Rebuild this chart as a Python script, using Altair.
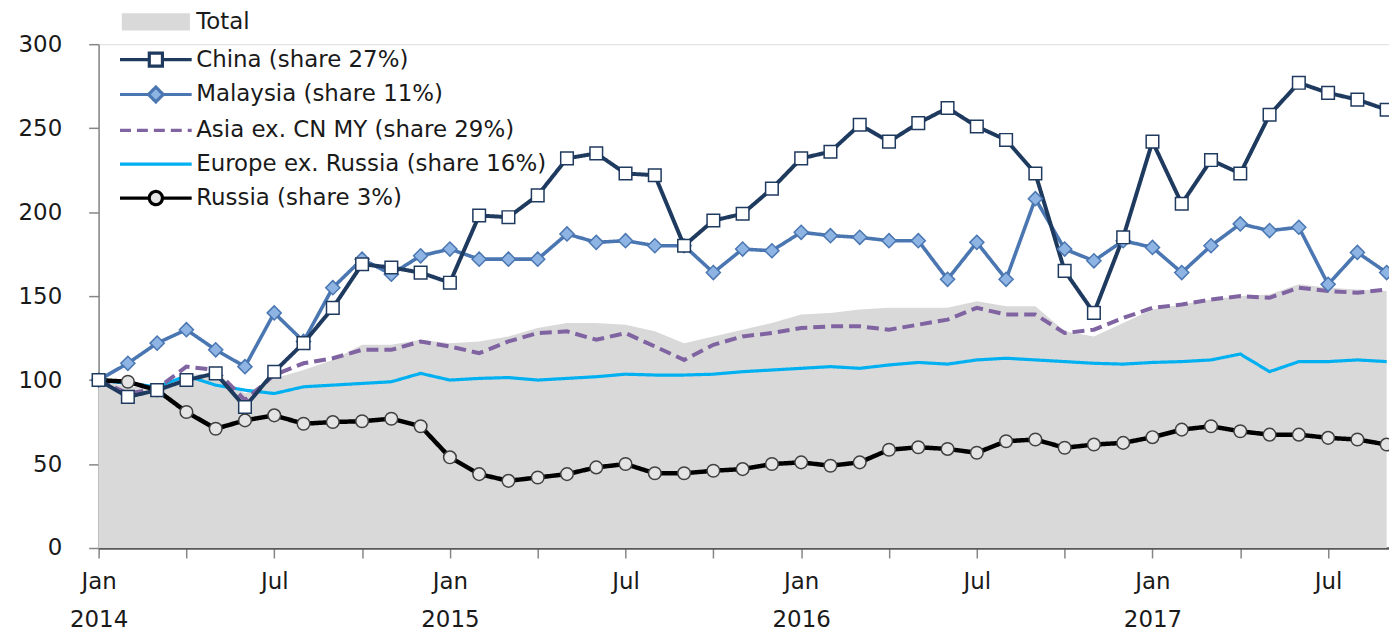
import altair as alt
import pandas as pd

# ---------------- data ----------------
months = [f"{y}-{m:02d}" for y in range(2014, 2018) for m in range(1, 13)][:45]

total = [100, 96, 96, 103, 104, 92, 101, 106, 112, 121, 121, 124, 122, 123, 126,
         131, 134, 134, 133, 129, 122, 126, 130, 134, 139, 140, 142, 143, 143, 143,
         147, 144, 144, 129, 126, 134, 142, 145, 148, 150, 151, 157, 155, 154, 153]
china = [100, 90, 94, 100, 104, 84, 105, 122, 143, 169, 167, 164, 158, 198, 197,
         210, 232, 235, 223, 222, 180, 195, 199, 214, 232, 236, 252, 242, 253, 262,
         251, 243, 223, 165, 140, 185, 242, 205, 231, 223, 258, 277, 271, 267, 261]
malaysia = [100, 110, 122, 130, 118, 108, 140, 123, 155, 172, 163, 174, 178, 172, 172,
            172, 187, 182, 183, 180, 180, 164, 178, 177, 188, 186, 185, 183, 183, 160,
            182, 160, 208, 178, 171, 183, 179, 164, 180, 193, 189, 191, 157, 176, 164]
asia = [100, 92, 95, 108, 106, 88, 103, 110, 113, 118, 118, 123, 120, 116, 123,
        128, 129, 124, 128, 120, 112, 121, 126, 128, 131, 132, 132, 130, 133, 136,
        143, 139, 139, 128, 130, 137, 143, 145, 148, 150, 149, 155, 153, 152, 154]
europe = [100, 98, 96, 102.5, 97, 94, 92, 96, 97, 98, 99, 104, 100, 101, 101.5,
          100, 101, 102, 103.5, 103, 103, 103.5, 105, 106, 107, 108, 107, 109, 110.5, 109.5,
          112, 113, 112, 111, 110, 109.5, 110.5, 111, 112, 115.5, 105, 111, 111, 112, 111]
russia = [100, 99, 94, 81, 71, 76, 79, 74, 75, 75.5, 77, 72.5, 54, 44, 40,
          42, 44, 48, 50, 44.5, 44.5, 46, 47, 50, 51, 49, 51, 58.5, 60, 59,
          56.7, 63.6, 64.6, 59.7, 61.6, 62.6, 66, 70.5, 72.5, 69.5, 67.5, 67.5, 65.6, 64.6, 61.6]

names = ["Total", "China (share 27%)", "Malaysia (share 11%)",
         "Asia ex. CN MY (share 29%)", "Europe ex. Russia (share 16%)", "Russia (share 3%)"]
values = [total, china, malaysia, asia, europe, russia]

y_ticks = [0, 50, 100, 150, 200, 250, 300]
month_ticks = list(range(0, 45, 3))

# ---------------- styling ----------------
FONT = "DejaVu Sans"
FS = 23
TXT = "#1a1a1a"
AREA = "#D9D9D9"
NAVY = "#1F3A5F"
STEEL = "#4A76B2"
PURPLE = "#8064A2"
CYAN = "#00B0F0"
BLACK = "#000000"

# (series, colour, width, dash) for the lines, drawn in this order
line_styles = [
    (names[4], CYAN, 3.2, [1, 0]),
    (names[3], PURPLE, 4.0, [12, 6]),
    (names[5], BLACK, 4.5, [1, 0]),
    (names[2], STEEL, 3.6, [1, 0]),
    (names[1], NAVY, 4.0, [1, 0]),
]
# (series, shape, fill, stroke, size) for the markers
marker_styles = [
    (names[5], "circle", "#E4E4E4", "#404040", 160),
    (names[2], "diamond", "#8DB4E2", STEEL, 200),
    (names[1], "square", "#FFFFFF", NAVY, 160),
]

rows = []
for name, vals in zip(names, values):
    for m, v in zip(months, vals):
        yr, mo = m.split("-")
        rows.append({"series": name, "t": (int(yr) - 2014) * 12 + int(mo) - 1, "value": v})
df = pd.DataFrame(rows)

# legend symbols: custom symbol paths (scaled by sqrt(size)/2 = 12 px per unit)
sq = "M-3,0H-0.55M0.55,0H3M-0.55,-0.55H0.55V0.55H-0.55Z"
dia = "M-3,0H-0.62M0.62,0H3M0,-0.62L0.62,0L0,0.62L-0.62,0Z"
circ = "M-3,0H-0.55M0.55,0H3M0.55,0A0.55,0.55,0,1,1,-0.55,0A0.55,0.55,0,1,1,0.55,0Z"
ln = "M-3,0H3"
rect = "M-2.85,-0.72H2.85V0.72H-2.85Z"
leg_shapes = [rect, sq, dia, ln, ln, circ]
leg_fills = [AREA, "#FFFFFF", "#8DB4E2", "transparent", "transparent", "#E4E4E4"]
leg_strokes = ["transparent", NAVY, STEEL, PURPLE, CYAN, BLACK]
leg_dash = [[1, 0], [1, 0], [1, 0], [11, 6], [1, 0], [1, 0]]

legend = alt.Legend(
    title=None, orient="none", legendX=43.5, legendY=-36.5, direction="vertical",
    symbolSize=576, symbolStrokeWidth=3.2, symbolOffset=0, labelOffset=26.5,
    rowPadding=8, padding=0, labelFont=FONT, labelFontSize=FS, labelColor=TXT,
    labelLimit=600, symbolOpacity=1,
)

x_enc = alt.X(
    "t:Q",
    scale=alt.Scale(domain=[0, 44.08], nice=False, zero=False),
    axis=alt.Axis(
        title=None, values=month_ticks, grid=False,
        labelExpr="datum.value % 12 == 0 ? ['Jan', '' + (2014 + datum.value / 12)] : (datum.value % 12 == 6 ? 'Jul' : '')",
        labelFont=FONT, labelFontSize=FS, labelColor=TXT, labelPadding=13,
        labelLineHeight=38, labelOverlap=False, labelFlush=False, labelBound=False,
        tickSize=10, tickColor="#868686", tickWidth=1.5,
        domainColor="#595959", domainWidth=2.5,
    ),
)
y_enc = alt.Y(
    "value:Q",
    scale=alt.Scale(domain=[0, 300], nice=False),
    axis=alt.Axis(
        title=None, values=y_ticks, grid=False,
        labelFont=FONT, labelFontSize=FS, labelColor=TXT, labelPadding=27,
        tickSize=10, tickColor="#868686", tickWidth=1.5,
        domainColor="#868686", domainWidth=1.5,
    ),
)

base = alt.Chart(df)

layers = [
    base.transform_filter(alt.datum.series == "Total").mark_area(
        fill=AREA, strokeWidth=0
    ).encode(x=x_enc, y=y_enc)
]

for name, col, w, dash in line_styles:
    layers.append(
        base.transform_filter(alt.datum.series == name).mark_line(
            color=col, strokeWidth=w, strokeDash=dash
        ).encode(x=x_enc, y=y_enc)
    )

for name, shp, fil, stk, sz in marker_styles:
    layers.append(
        base.transform_filter(alt.datum.series == name).mark_point(
            shape=shp, filled=True, fill=fil, stroke=stk, strokeWidth=1.5, size=sz, opacity=1
        ).encode(x=x_enc, y=y_enc)
    )

# legend layer: draws nothing itself, only carries the legend scales
layers.append(
    base.transform_filter("false").mark_point(strokeWidth=3.2, opacity=1).encode(
        x=x_enc, y=y_enc,
        shape=alt.Shape("series:N", scale=alt.Scale(domain=names, range=leg_shapes), legend=legend),
        fill=alt.Fill("series:N", scale=alt.Scale(domain=names, range=leg_fills), legend=legend),
        stroke=alt.Stroke("series:N", scale=alt.Scale(domain=names, range=leg_strokes), legend=legend),
        strokeDash=alt.StrokeDash("series:N", scale=alt.Scale(domain=names, range=leg_dash), legend=legend),
    )
)

chart = alt.layer(*layers).properties(
    width=1296, height=506,
    autosize=alt.AutoSizeParams(type="none"),
    padding={"left": 91, "top": 35, "right": 0, "bottom": 84},
).configure_view(stroke=None).configure(font=FONT, background="white")

chart.save("out.html", embed_options={"renderer": "svg", "actions": False})
